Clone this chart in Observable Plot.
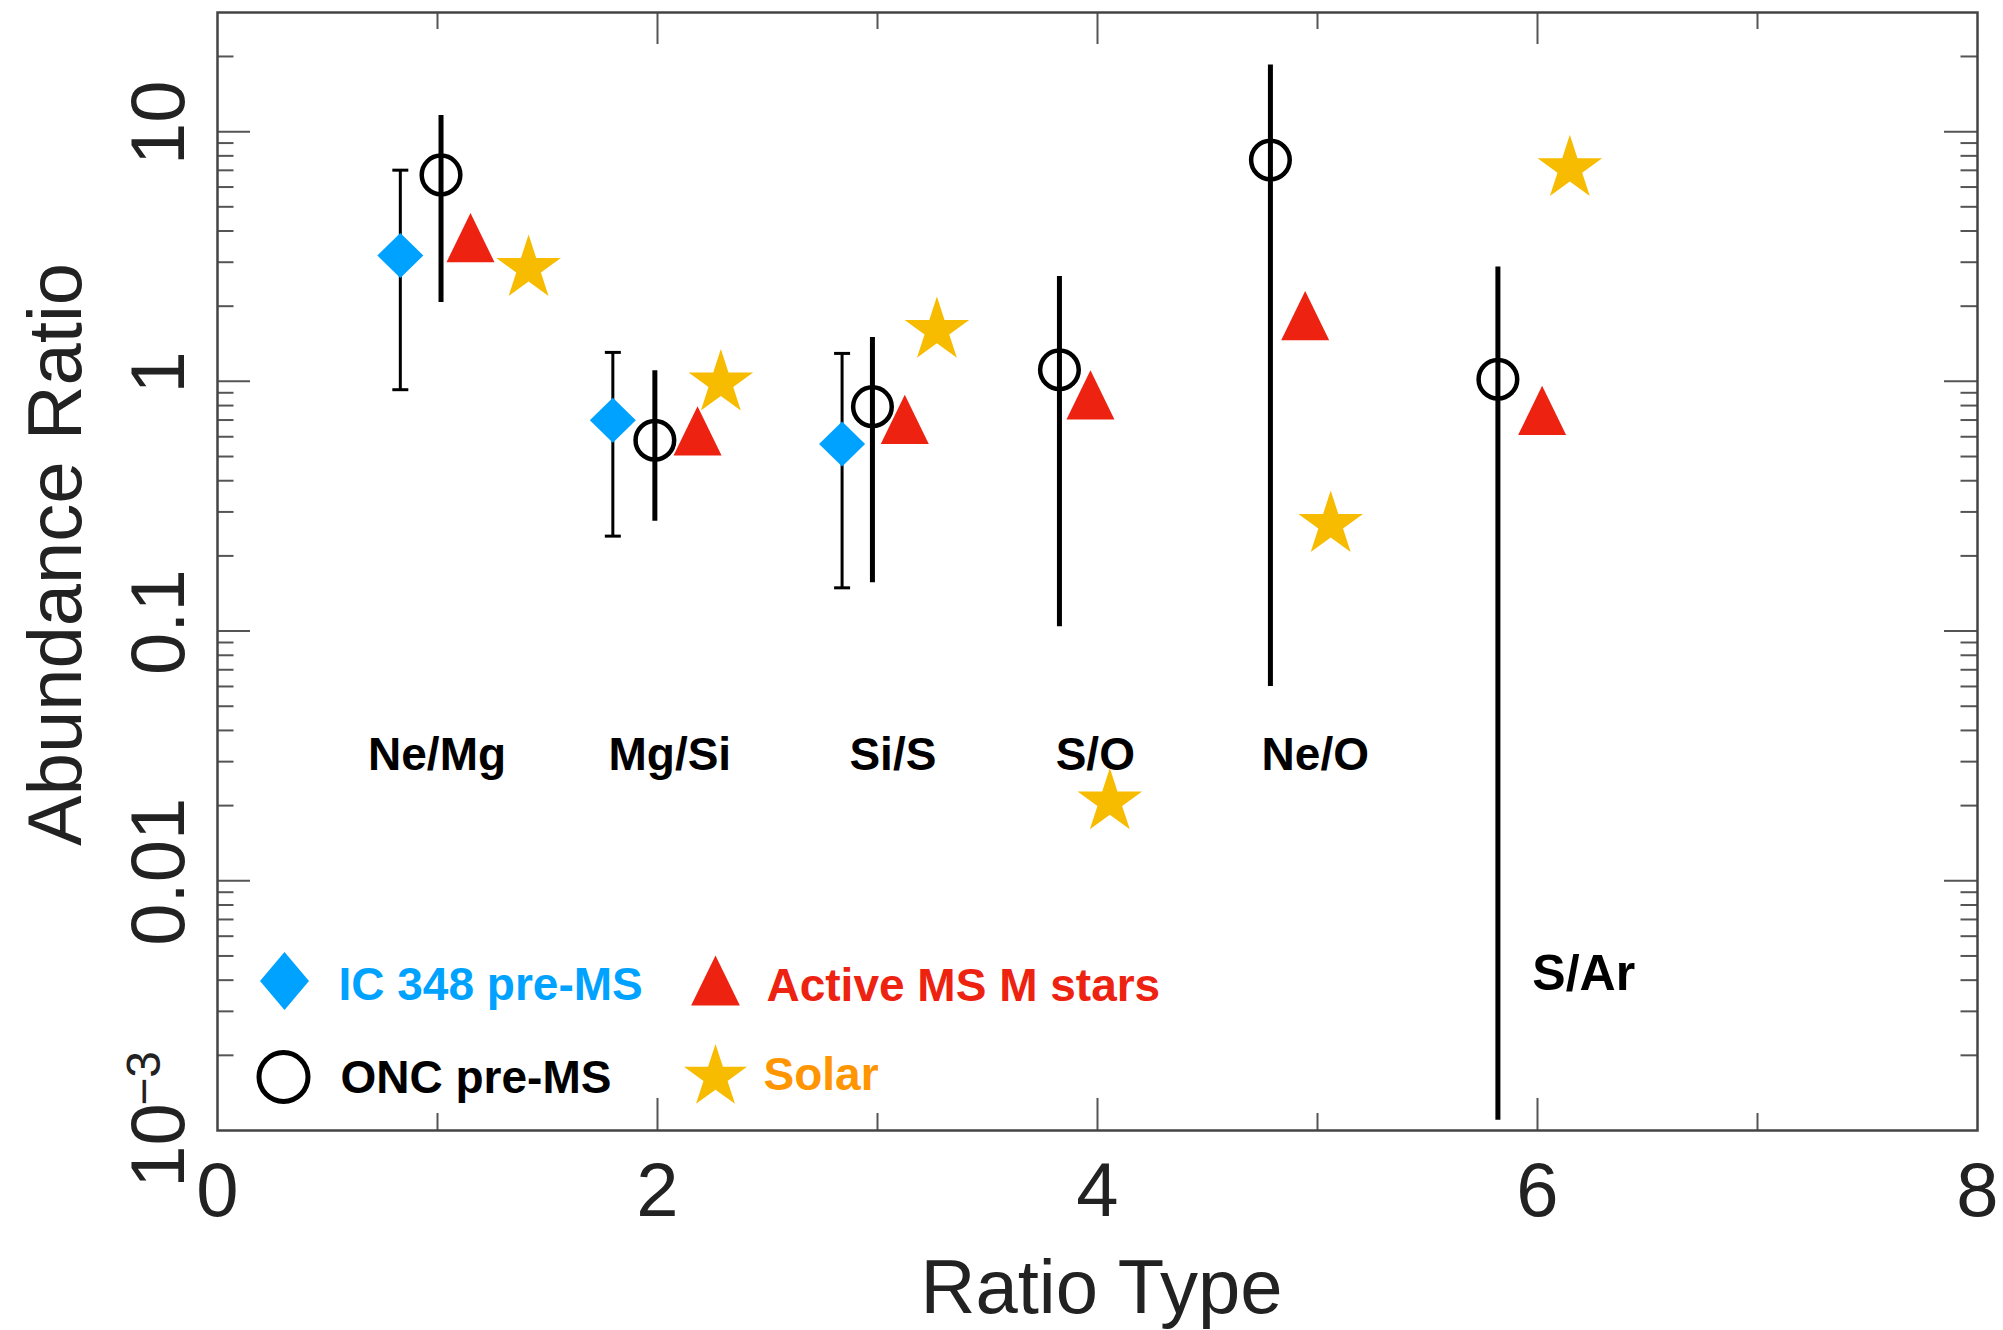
<!DOCTYPE html>
<html>
<head>
<meta charset="utf-8">
<script src="https://cdn.jsdelivr.net/npm/d3@7"></script>
<script src="https://cdn.jsdelivr.net/npm/@observablehq/plot@0.6"></script>
<style>
  body { margin: 0; background: #fff; }
  #chart svg { display: block; }
</style>
</head>
<body>
<div id="chart"></div>
<script>
// ---------- data ----------
const categories  = ["Ne/Mg", "Mg/Si", "Si/S", "S/O", "Ne/O"];
const categoryX   = [0.998, 2.056, 3.07, 3.99, 4.99];
const lastCategory  = "S/Ar";
const lastCategoryX = 6.21;

// IC 348 pre-MS (blue diamonds, thin capped error bars)
const icX  = [0.831, 1.797, 2.839];
const icY  = [3.19, 0.698, 0.561];
const icLo = [0.926, 0.240, 0.149];
const icHi = [7.01, 1.306, 1.294];

// ONC pre-MS (open circles, thick error bars)
const oncX  = [1.016, 1.988, 2.977, 3.827, 4.786, 5.820];
const oncY  = [6.71, 0.581, 0.792, 1.113, 7.70, 1.02];
const oncLo = [2.07, 0.275, 0.156, 0.104, 0.060, 0.0011];
const oncHi = [11.6, 1.104, 1.50, 2.63, 18.5, 2.87];

// Active MS M stars (red triangles)
const msX = [1.15, 2.182, 3.124, 3.968, 4.944, 6.021];
const msY = [3.49, 0.587, 0.653, 0.819, 1.70, 0.709];

// Solar (gold stars)
const solarX = [1.414, 2.288, 3.27, 4.056, 5.06, 6.147];
const solarY = [2.83, 0.985, 1.60, 0.0207, 0.267, 7.11];

const seriesNames = ["IC 348 pre-MS", "Active MS M stars", "ONC pre-MS", "Solar"];

// ticks
const xMajorTicks = [0, 2, 4, 6, 8];
const xInnerMajor = [2, 4, 6];
const xMinorTicks = [1, 3, 5, 7];
const yMajorTicks = [0.01, 0.1, 1, 10];
const yTickLabels = ["0.01", "0.1", "1", "10"];
const yBottomTick = 0.001;
const yMinorTicks = [];
for (const d of [0.001, 0.01, 0.1, 1]) for (let k = 2; k <= 9; k++) yMinorTicks.push(+(k * d).toPrecision(3));
yMinorTicks.push(20);

// ---------- rows ----------
const ic    = icX.map((x, i) => ({x, y: icY[i], lo: icLo[i], hi: icHi[i]}));
const onc   = oncX.map((x, i) => ({x, y: oncY[i], lo: oncLo[i], hi: oncHi[i]}));
const ms    = msX.map((x, i) => ({x, y: msY[i]}));
const solar = solarX.map((x, i) => ({x, y: solarY[i]}));
const cats  = categories.map((c, i) => ({c, x: categoryX[i]}));

// ---------- symbols ----------
const BLUE = "#00a2ff", RED = "#ee2211", GOLD = "#f7bb00", ORANGE = "#ff9500";
const tri = {draw(ctx, size) {
  const r = Math.sqrt(size / Math.PI), h = 2.465 * r, w = 1.2 * r;
  ctx.moveTo(0, -2 * h / 3); ctx.lineTo(w, h / 3); ctx.lineTo(-w, h / 3); ctx.closePath();
}};
const diamond = (ax, ay) => ({draw(ctx, size) {
  const r = Math.sqrt(size / Math.PI);
  ctx.moveTo(0, -ay * r); ctx.lineTo(ax * r, 0); ctx.lineTo(0, ay * r); ctx.lineTo(-ax * r, 0); ctx.closePath();
}});
const cap = {draw(ctx) { ctx.moveTo(-8, 0); ctx.lineTo(8, 0); }};

// ---------- layout ----------
const W = 2003, H = 1330;
const mL = 217, mR = 26, mT = 12, mB = 200;
const pw = W - mL - mR, ph = H - mT - mB;
const FONT = "'Liberation Sans', Arial, Helvetica, sans-serif";
const TICK = "#555";

const chart = Plot.plot({
  width: W, height: H,
  marginLeft: mL, marginRight: mR, marginTop: mT, marginBottom: mB,
  style: {fontFamily: FONT, background: "#fff", overflow: "visible"},
  x: {domain: [0, 8], axis: null},
  y: {type: "log", domain: [0.001, 30], axis: null},
  marks: [
    // inward ticks
    Plot.ruleX(xInnerMajor, {x: d => d, insetTop: ph - 32, stroke: TICK, strokeWidth: 2}),
    Plot.ruleX(xMinorTicks, {x: d => d, insetTop: ph - 17, stroke: TICK, strokeWidth: 2}),
    Plot.ruleX(xInnerMajor, {x: d => d, insetBottom: ph - 32, stroke: TICK, strokeWidth: 2}),
    Plot.ruleX(xMinorTicks, {x: d => d, insetBottom: ph - 17, stroke: TICK, strokeWidth: 2}),
    Plot.ruleY(yMajorTicks, {y: d => d, insetRight: pw - 33, stroke: TICK, strokeWidth: 2}),
    Plot.ruleY(yMinorTicks, {y: d => d, insetRight: pw - 16.5, stroke: TICK, strokeWidth: 2}),
    Plot.ruleY(yMajorTicks, {y: d => d, insetLeft: pw - 33, stroke: TICK, strokeWidth: 2}),
    Plot.ruleY(yMinorTicks, {y: d => d, insetLeft: pw - 16.5, stroke: TICK, strokeWidth: 2}),
    Plot.frame({stroke: "#444", strokeWidth: 2.5}),

    // tick labels
    Plot.text(xMajorTicks, {x: d => d, frameAnchor: "bottom", dy: 85, lineAnchor: "bottom",
      text: d => String(d), fontSize: 76, fill: "#222"}),
    Plot.text(yMajorTicks, {y: d => d, frameAnchor: "left", dx: -34, dy: -9, rotate: -90,
      lineAnchor: "bottom", textAnchor: "middle", text: (d, i) => yTickLabels[i], fontSize: 76, fill: "#222"}),
    Plot.text([yBottomTick], {y: d => d, frameAnchor: "left", dx: -34, dy: 15, rotate: -90,
      lineAnchor: "bottom", textAnchor: "middle", text: () => "10", fontSize: 76, fill: "#222"}),
    Plot.text([yBottomTick], {y: d => d, frameAnchor: "left", dx: -58, dy: -52, rotate: -90,
      lineAnchor: "bottom", textAnchor: "middle", text: () => "\u22123", fontSize: 48, fill: "#222"}),

    // axis titles
    Plot.text(["Ratio Type"], {frameAnchor: "bottom", dx: 4, dy: 182, lineAnchor: "bottom",
      text: d => d, fontSize: 76, fill: "#222"}),
    Plot.text(["Abundance Ratio"], {frameAnchor: "left", dx: -137, dy: -17, rotate: -90,
      lineAnchor: "bottom", textAnchor: "middle", text: d => d, fontSize: 76, fill: "#222"}),

    // category labels
    Plot.text(cats, {x: "x", y: 0.0278, text: "c", lineAnchor: "bottom", fontSize: 46, fontWeight: "bold", fill: "#000"}),
    Plot.text([lastCategory], {x: lastCategoryX, y: 0.00366, text: d => d, lineAnchor: "bottom", fontSize: 50, fontWeight: "bold", fill: "#000"}),

    // IC 348 error bars + diamonds
    Plot.ruleX(ic, {x: "x", y1: "lo", y2: "hi", stroke: "#000", strokeWidth: 3}),
    Plot.dot(ic, {x: "x", y: "lo", symbol: cap, r: 10, fill: "none", stroke: "#000", strokeWidth: 3}),
    Plot.dot(ic, {x: "x", y: "hi", symbol: cap, r: 10, fill: "none", stroke: "#000", strokeWidth: 3}),
    Plot.dot(ic, {x: "x", y: "y", symbol: diamond(1.15, 1.125), r: 20, fill: BLUE, stroke: "none"}),

    // ONC error bars + circles
    Plot.ruleX(onc, {x: "x", y1: "lo", y2: "hi", stroke: "#000", strokeWidth: 5}),
    Plot.dot(onc, {x: "x", y: "y", r: 19.3, fill: "none", stroke: "#000", strokeWidth: 4.5}),

    // Active MS M stars
    Plot.dot(ms, {x: "x", y: "y", symbol: tri, r: 20, fill: RED, stroke: "none"}),

    // Solar
    Plot.dot(solar, {x: "x", y: "y", symbol: "star", r: 20.3, fill: GOLD, stroke: "none"}),

    // legend
    Plot.dot([0], {frameAnchor: "bottom-left", dx: 67, dy: -149.5, symbol: diamond(1.225, 1.45), r: 20, fill: BLUE, stroke: "none"}),
    Plot.dot([0], {frameAnchor: "bottom-left", dx: 498, dy: -141.7, symbol: tri, r: 20.3, fill: RED, stroke: "none"}),
    Plot.dot([0], {frameAnchor: "bottom-left", dx: 66, dy: -53.5, r: 24.5, fill: "none", stroke: "#000", strokeWidth: 5}),
    Plot.dot([0], {frameAnchor: "bottom-left", dx: 498, dy: -53.5, symbol: "star", r: 19.8, fill: GOLD, stroke: "none"}),
    Plot.text([seriesNames[0]], {frameAnchor: "bottom-left", dx: 121, dy: -130.5, text: d => d, textAnchor: "start", lineAnchor: "bottom", fontSize: 46, fontWeight: "bold", fill: BLUE}),
    Plot.text([seriesNames[1]], {frameAnchor: "bottom-left", dx: 549, dy: -130, text: d => d, textAnchor: "start", lineAnchor: "bottom", fontSize: 46, fontWeight: "bold", fill: RED}),
    Plot.text([seriesNames[2]], {frameAnchor: "bottom-left", dx: 123, dy: -38, text: d => d, textAnchor: "start", lineAnchor: "bottom", fontSize: 46, fontWeight: "bold", fill: "#000"}),
    Plot.text([seriesNames[3]], {frameAnchor: "bottom-left", dx: 546, dy: -41, text: d => d, textAnchor: "start", lineAnchor: "bottom", fontSize: 46, fontWeight: "bold", fill: ORANGE})
  ]
});
document.getElementById("chart").appendChild(chart);
</script>
</body>
</html>
